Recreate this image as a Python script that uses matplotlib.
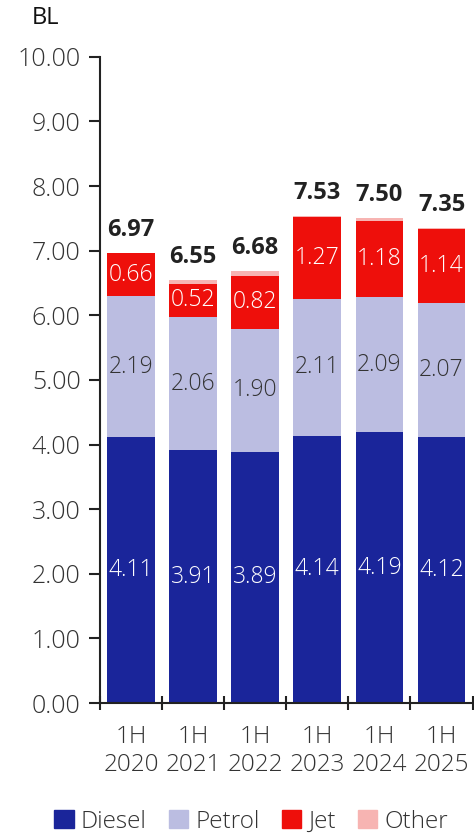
import matplotlib
matplotlib.use("Agg")
import matplotlib.pyplot as plt
import numpy as np
from matplotlib.patches import Patch

categories = ["1H\n2020", "1H\n2021", "1H\n2022", "1H\n2023", "1H\n2024", "1H\n2025"]
diesel = [4.11, 3.91, 3.89, 4.14, 4.19, 4.12]
petrol = [2.19, 2.06, 1.90, 2.11, 2.09, 2.07]
jet = [0.66, 0.52, 0.82, 1.27, 1.18, 1.14]
other = [0.01, 0.06, 0.07, 0.01, 0.04, 0.02]
totals = [6.97, 6.55, 6.68, 7.53, 7.50, 7.35]
yticks = [0, 1, 2, 3, 4, 5, 6, 7, 8, 9, 10]

plt.rcParams['font.family'] = ['Open Sans', 'DejaVu Sans']
plt.rcParams['font.weight'] = 'light'
txt = "#333333"
c_d, c_p, c_j, c_o = "#1A259A", "#BBBDE1", "#EE0F0B", "#F7B4B2"

fig = plt.figure(figsize=(4.74, 8.35), dpi=100)
ax = fig.add_axes([0.211, 0.158, 0.786, 0.774])
x = np.arange(len(categories))
w = 0.77
d = np.array(diesel); p = np.array(petrol); j = np.array(jet); o = np.array(other)
ax.bar(x, d, w, color=c_d, zorder=2)
ax.bar(x, p, w, bottom=d, color=c_p, zorder=2)
ax.bar(x, j, w, bottom=d + p, color=c_j, zorder=2)
ax.bar(x, o, w, bottom=d + p + j, color=c_o, zorder=2)

fs = 16.5
for i in range(len(x)):
    ax.text(x[i], d[i] / 2, f"{diesel[i]:.2f}", ha="center", va="center", color="white", fontsize=fs)
    ax.text(x[i], d[i] + p[i] / 2, f"{petrol[i]:.2f}", ha="center", va="center", color=txt, fontsize=fs)
    ax.text(x[i], d[i] + p[i] + j[i] / 2, f"{jet[i]:.2f}", ha="center", va="center", color="white", fontsize=fs)
    ax.text(x[i], totals[i] + 0.17, f"{totals[i]:.2f}", ha="center", va="bottom", color="#222222",
            fontsize=17, fontweight="bold")

ax.set_xlim(-0.5, len(x) - 0.5)
ax.set_ylim(0, 10)
ax.set_yticks(yticks)
ax.set_yticklabels([f"{v:.2f}" for v in yticks], fontsize=18, color=txt)
ax.set_xticks(x)
ax.set_xticklabels(categories, fontsize=17.5, color=txt, linespacing=1.2)
ax.tick_params(axis="x", which="major", length=0, pad=16)
ax.set_xticks(np.arange(-0.5, len(x), 1), minor=True)
ax.tick_params(axis="x", which="minor", length=10, direction="inout", width=1.5, color="#222222")
ax.tick_params(axis="y", length=8, width=1.5, color="#222222", pad=6)
for s in ["top", "right"]:
    ax.spines[s].set_visible(False)
for s in ["left", "bottom"]:
    ax.spines[s].set_linewidth(1.5)
    ax.spines[s].set_color("#222222")

fig.text(0.095, 0.978, "BL", fontsize=17, color="#111111", ha="center", va="center", fontweight="normal")

handles = [Patch(color=c_d, label="Diesel"), Patch(color=c_p, label="Petrol"),
           Patch(color=c_j, label="Jet"), Patch(color=c_o, label="Other")]
leg = fig.legend(handles=handles, loc="center", bbox_to_anchor=(0.53, 0.016), ncol=4, frameon=False,
                 fontsize=17.5, handlelength=0.8, handleheight=0.8, handletextpad=0.3, columnspacing=0.9)
for t in leg.get_texts():
    t.set_color(txt)

fig.savefig("out.png", dpi=100)
